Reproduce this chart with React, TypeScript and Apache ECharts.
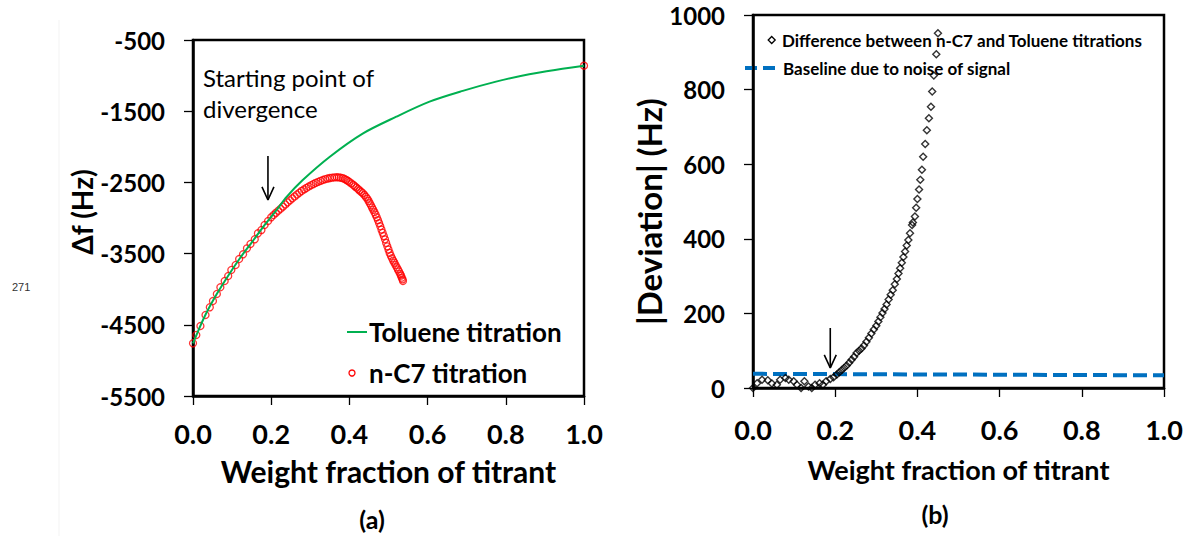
import React, { useEffect, useRef } from 'react';
import * as echarts from 'echarts';

// ---------- data ----------
const xTickValues = [0, 0.2, 0.4, 0.6, 0.8, 1.0];
const leftYTicks = [-5500, -4500, -3500, -2500, -1500, -500];
const rightYTicks = [0, 200, 400, 600, 800, 1000];

// (a) Toluene titration (green line)
const tolueneW = [0, 0.03, 0.06, 0.09, 0.12, 0.15, 0.18, 0.21, 0.24, 0.28, 0.35, 0.435, 0.52, 0.605, 0.69, 0.775, 0.86, 0.945, 1.0];
const tolueneDf = [-4760, -4380, -4075, -3810, -3565, -3345, -3120, -2915, -2700, -2470, -2139, -1811, -1577, -1366, -1215, -1085, -980, -905, -861];

// (a) n-C7 titration (red circles)
const nc7W = [
  0, 0.0085, 0.019, 0.032, 0.043, 0.051, 0.061, 0.070, 0.081, 0.090, 0.098, 0.109, 0.118, 0.128, 0.138, 0.147, 0.158, 0.166, 0.175, 0.183, 0.192, 0.200,
  0.206, 0.212, 0.218, 0.224, 0.230, 0.236, 0.242, 0.248, 0.254, 0.260, 0.266, 0.272, 0.278, 0.284, 0.290, 0.296, 0.302, 0.308, 0.314, 0.320, 0.326, 0.332, 0.338, 0.344, 0.350, 0.356, 0.362, 0.368,
  0.373, 0.378, 0.383, 0.388, 0.392, 0.396, 0.400, 0.405, 0.410, 0.414, 0.418, 0.422, 0.426, 0.430, 0.434, 0.438, 0.442, 0.446, 0.449, 0.452, 0.455, 0.458, 0.461, 0.464, 0.467, 0.470,
  0.473, 0.476, 0.479, 0.482, 0.485, 0.488, 0.491, 0.494, 0.497, 0.500, 0.503, 0.506, 0.509, 0.512, 0.515, 0.518, 0.521, 0.524, 0.527, 0.530, 0.532, 0.534, 0.536, 0.537,
  1.0,
];
const nc7Df = [
  -4760, -4643, -4517, -4362, -4254, -4166, -4067, -3973, -3885, -3815, -3730, -3660, -3576, -3510, -3426, -3365, -3299, -3215, -3169, -3098, -3042, -2990,
  -2958, -2928, -2898, -2870, -2840, -2810, -2780, -2752, -2724, -2697, -2670, -2645, -2620, -2598, -2578, -2558, -2540, -2523, -2507, -2492, -2478, -2466, -2455, -2446, -2439, -2433, -2429, -2428,
  -2429, -2434, -2441, -2452, -2464, -2478, -2494, -2514, -2536, -2555, -2572, -2593, -2613, -2632, -2650, -2675, -2702, -2730, -2760, -2792, -2822, -2853, -2885, -2918, -2952, -2990,
  -3030, -3072, -3116, -3162, -3208, -3254, -3300, -3350, -3398, -3443, -3490, -3530, -3566, -3598, -3628, -3660, -3692, -3722, -3752, -3785, -3810, -3838, -3862, -3885,
  -860,
];

// (b) |Deviation| (black diamonds)
const devW = [
  0, 0.010, 0.022, 0.036, 0.046, 0.058, 0.066, 0.079, 0.087, 0.099, 0.107, 0.117, 0.125, 0.135, 0.143, 0.151, 0.162, 0.170, 0.178, 0.188, 0.196,
  0.204, 0.210, 0.216, 0.222, 0.228, 0.234, 0.240, 0.246, 0.252, 0.258, 0.264, 0.270, 0.276, 0.282, 0.288, 0.294, 0.300, 0.305, 0.310, 0.315, 0.320, 0.325, 0.330, 0.335, 0.340, 0.345, 0.350, 0.354, 0.358, 0.362, 0.366,
  0.370, 0.374, 0.378, 0.382, 0.387, 0.389, 0.394, 0.397, 0.400, 0.404, 0.407, 0.411, 0.414, 0.419, 0.423, 0.428, 0.433, 0.436, 0.440, 0.446, 0.450,
];
const devHz = [
  0, 13, 22, 21, 12, 9, 22, 27, 22, 18, 9, 0, 18, 4, 0, 9, 13, 9, 18, 24, 29,
  36, 42, 48, 54, 60, 68, 76, 84, 94, 100, 106, 114, 124, 135, 146, 157, 167, 178, 190, 201, 212, 224, 237, 250, 262, 278, 292, 307, 321, 336, 351,
  366, 382, 397, 415, 437, 444, 460, 483, 507, 532, 558, 585, 620, 654, 691, 723, 754, 795, 838, 895, 951,
];

// (b) baseline due to noise (blue dashed)
const baselineW = [0, 1];
const baselineHz = [38, 34];

// legend / annotation texts
const tolueneName = 'Toluene titration';
const nc7Name = 'n-C7 titration';
const devName = 'Difference between n-C7 and Toluene titrations';
const baselineName = 'Baseline due to noise of signal';

// annotation arrows (data coordinates)
const arrowAShaft = [[0.1917, -2129], [0.1917, -2747]];
const arrowAHead = [[0.1764, -2564], [0.1917, -2747], [0.207, -2564]];
const arrowBShaft = [[0.188, 161], [0.188, 54]];
const arrowBHead = [[0.1734, 89], [0.188, 54], [0.2026, 89]];

const zip = (xs: number[], ys: number[]) => xs.map((x, i) => [x, ys[i]]);

const FONT = 'Lato, "Open Sans", sans-serif';

function axisStyle() {
  return {
    axisLine: { show: true, onZero: false, lineStyle: { color: '#000', width: 2.5 } },
    splitLine: { show: false },
  };
}

export default function App() {
  const ref = useRef<HTMLDivElement>(null);

  useEffect(() => {
    if (!ref.current) return;
    const chart = echarts.init(ref.current, undefined, { renderer: 'svg' });

    const labelBold = (size: number, margin: number) => ({
      fontSize: size,
      fontWeight: 'bold',
      fontFamily: FONT,
      color: '#000',
      margin,
    });

    const arrowLine = (xi: number, yi: number, data: number[][]) => ({
      type: 'line',
      xAxisIndex: xi,
      yAxisIndex: yi,
      data,
      symbol: 'none',
      silent: true,
      lineStyle: { color: '#000', width: 1.6 },
      z: 6,
    });

    const boldText = (x: number, y: number, text: string, size: number, align = 'left') => ({
      type: 'text', x, y, silent: true,
      style: { text, fontSize: size, fontWeight: 'bold', fontFamily: FONT, fill: '#000', align, verticalAlign: 'middle' },
    });

    const tick = (values: number[]) => ({ show: true, length: 9, lineStyle: { color: '#000', width: 1.3 }, customValues: values });

    chart.setOption({
      animation: false,
      backgroundColor: '#fff',
      grid: [
        { left: 193, top: 40, width: 391, height: 356, show: true, borderColor: '#000', borderWidth: 2.5, backgroundColor: 'transparent' },
        { left: 753, top: 15, width: 411, height: 373, show: true, borderColor: '#000', borderWidth: 2.5, backgroundColor: 'transparent' },
      ],
      xAxis: [
        {
          gridIndex: 0, type: 'value', min: 0, max: 1,
          ...axisStyle(),
          axisTick: tick(xTickValues),
          axisLabel: { ...labelBold(27, 24), customValues: xTickValues, formatter: (v: number) => v.toFixed(1) },
          name: 'Weight fraction of titrant', nameLocation: 'middle', nameGap: 60,
          nameTextStyle: { fontSize: 30, fontWeight: 'bold', fontFamily: FONT, color: '#000' },
        },
        {
          gridIndex: 1, type: 'value', min: 0, max: 1,
          ...axisStyle(),
          axisTick: tick(xTickValues),
          axisLabel: { ...labelBold(27, 28), customValues: xTickValues, formatter: (v: number) => v.toFixed(1) },
          name: 'Weight fraction of titrant', nameLocation: 'middle', nameGap: 68,
          nameTextStyle: { fontSize: 27, fontWeight: 'bold', fontFamily: FONT, color: '#000' },
        },
      ],
      yAxis: [
        {
          gridIndex: 0, type: 'value', min: -5500, max: -500,
          ...axisStyle(),
          axisTick: tick(leftYTicks),
          axisLabel: { ...labelBold(24, 28), customValues: leftYTicks, formatter: (v: number) => String(v) },
          name: 'Δf (Hz)', nameLocation: 'middle', nameGap: 97,
          nameTextStyle: { fontSize: 28, fontWeight: 'bold', fontFamily: FONT, color: '#000', padding: [0, 0, 0, 12] },
        },
        {
          gridIndex: 1, type: 'value', min: 0, max: 1000,
          ...axisStyle(),
          axisTick: tick(rightYTicks),
          axisLabel: { ...labelBold(24, 28), customValues: rightYTicks, formatter: (v: number) => String(v) },
          name: '|Deviation| (Hz)', nameLocation: 'middle', nameGap: 72,
          nameTextStyle: { fontSize: 33, fontWeight: 'bold', fontFamily: FONT, color: '#000', padding: [0, 20, 0, 0] },
        },
      ],
      series: [
        {
          name: nc7Name, type: 'scatter', xAxisIndex: 0, yAxisIndex: 0,
          data: zip(nc7W, nc7Df), symbol: 'circle', symbolSize: 7,
          itemStyle: { color: 'rgba(255,255,255,0)', borderColor: '#ff0000', borderWidth: 1.3 },
          z: 3,
        },
        {
          name: tolueneName, type: 'line', xAxisIndex: 0, yAxisIndex: 0,
          data: zip(tolueneW, tolueneDf), symbol: 'none', smooth: 0.3,
          lineStyle: { color: '#00b050', width: 2 }, itemStyle: { color: '#00b050' },
          z: 4,
        },
        {
          name: baselineName, type: 'line', xAxisIndex: 1, yAxisIndex: 1,
          data: zip(baselineW, baselineHz), symbol: 'none',
          lineStyle: { color: '#0070c0', width: 4, type: [14, 6] }, itemStyle: { color: '#0070c0' },
          z: 3,
        },
        {
          name: devName, type: 'scatter', xAxisIndex: 1, yAxisIndex: 1,
          data: zip(devW, devHz), symbol: 'diamond', symbolSize: 7,
          itemStyle: { color: 'rgba(255,255,255,0)', borderColor: '#000', borderWidth: 1.4 },
          z: 4,
        },
        arrowLine(0, 0, arrowAShaft),
        arrowLine(0, 0, arrowAHead),
        arrowLine(1, 1, arrowBShaft),
        arrowLine(1, 1, arrowBHead),
      ],
      graphic: [
        { type: 'line', silent: true, shape: { x1: 59, y1: 20, x2: 59, y2: 536 }, style: { stroke: '#f3f3f3', lineWidth: 1 } },
        { type: 'text', x: 12, y: 287, silent: true, style: { text: '271', fontSize: 11, fontFamily: '"Liberation Sans", Arial, sans-serif', fill: '#333', verticalAlign: 'middle' } },
        { type: 'text', x: 203, y: 77, silent: true, style: { text: 'Starting point of', fontSize: 24, fontFamily: FONT, fill: '#000', verticalAlign: 'middle' } },
        { type: 'text', x: 203, y: 108, silent: true, style: { text: 'divergence', fontSize: 24, fontFamily: FONT, fill: '#000', verticalAlign: 'middle' } },
        boldText(372, 519, '(a)', 25, 'center'),
        boldText(935, 514, '(b)', 25, 'center'),
        // legend (a)
        { type: 'line', silent: true, shape: { x1: 347, y1: 332, x2: 367, y2: 332 }, style: { stroke: '#00b050', lineWidth: 2 } },
        boldText(369, 332, tolueneName, 26),
        { type: 'circle', silent: true, shape: { cx: 352, cy: 373, r: 3 }, style: { fill: '#fff', stroke: '#ff0000', lineWidth: 1.3 } },
        boldText(369, 373, nc7Name, 26),
        // legend (b)
        { type: 'polygon', silent: true, shape: { points: [[771.7, 36.5], [775.2, 40], [771.7, 43.5], [768.2, 40]] }, style: { fill: '#fff', stroke: '#000', lineWidth: 1.3 } },
        boldText(782, 40, devName, 17),
        { type: 'line', silent: true, shape: { x1: 745, y1: 68, x2: 778, y2: 68 }, style: { stroke: '#0070c0', lineWidth: 4, lineDash: [12, 6] } },
        boldText(783, 68, baselineName, 17),
      ],
    });

    return () => chart.dispose();
  }, []);

  return (
    <div
      ref={ref}
      style={{ position: 'fixed', left: 0, top: 0, width: 1190, height: 536, background: '#fff' }}
    />
  );
}
